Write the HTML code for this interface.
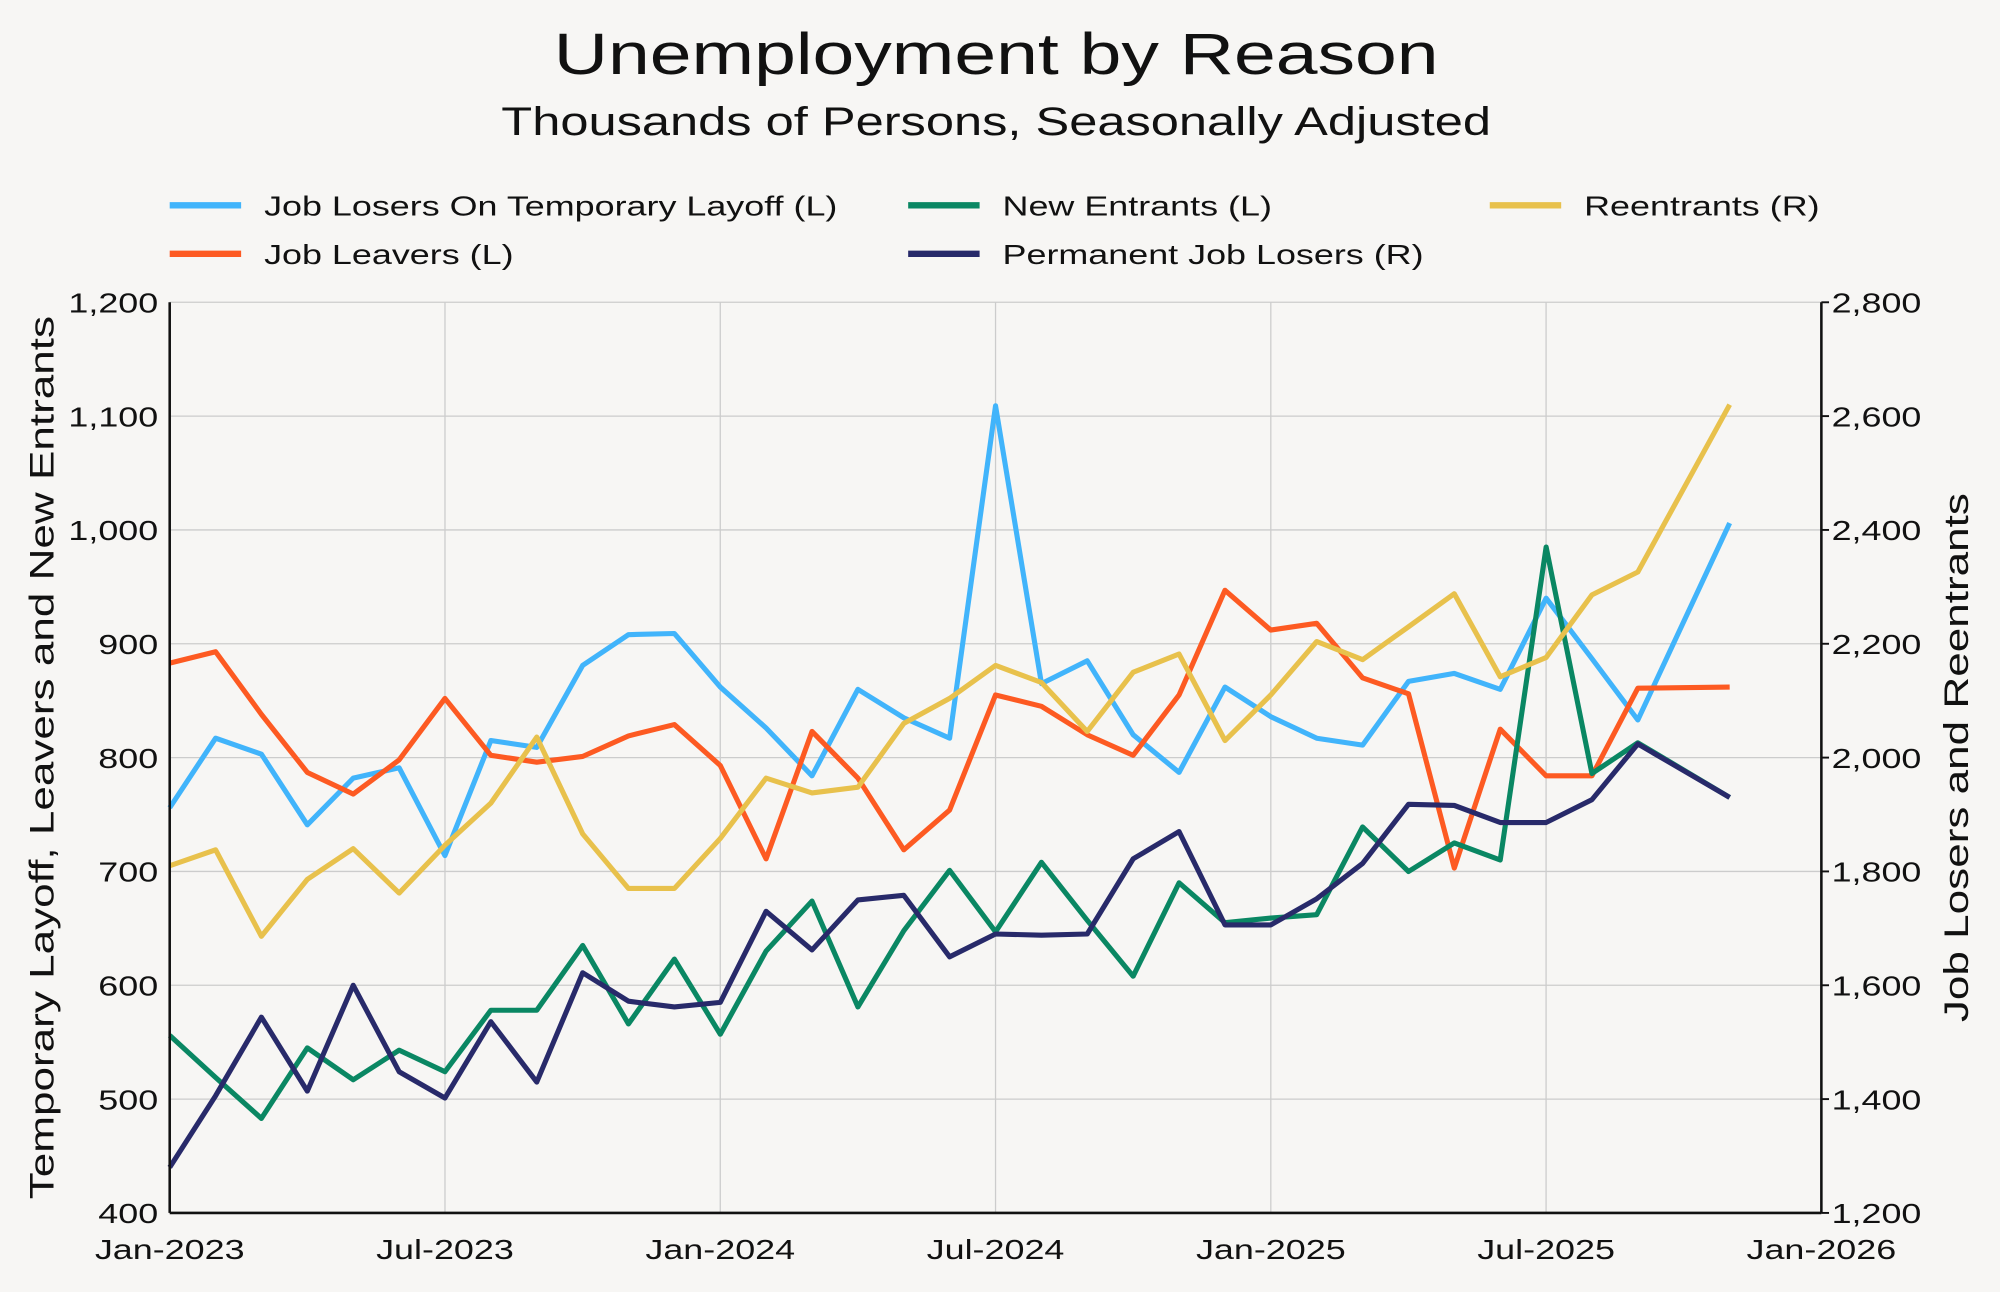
<!DOCTYPE html>
<html><head><meta charset="utf-8"><style>
html,body{margin:0;padding:0;background:#f7f6f4;}
svg{display:block;font-family:"Liberation Sans",sans-serif;}
</style></head><body>
<svg id="chart" width="2000" height="1292" viewBox="0 0 1568 1013" xmlns="http://www.w3.org/2000/svg">
<rect width="1568" height="1013" fill="#f7f6f4"/>
<text class="w" x="781" y="58" font-size="46" text-anchor="middle" fill="#111">Unemployment by Reason</text>
<text class="w" x="781" y="106" font-size="31" text-anchor="middle" fill="#111">Thousands of Persons, Seasonally Adjusted</text>
<g id="legend"></g>
<g id="grid"></g>
<g id="series"></g>
<g id="axes"></g>
<text class="w" transform="translate(42,594) rotate(-90)" font-size="27" text-anchor="middle" fill="#111">Temporary Layoff, Leavers and New Entrants</text>
<text class="w" transform="translate(1543,594) rotate(-90)" font-size="27" text-anchor="middle" fill="#111">Job Losers and Reentrants</text>
</svg>
<script>
// months index from Jan-2023 (0) ; Oct-2025 (33) missing
const months = [0,1,2,3,4,5,6,7,8,9,10,11,12,13,14,15,16,17,18,19,20,21,22,23,24,25,26,27,28,29,30,31,32,34];
const tempLayoff = [756,817,803,741,782,791,714,815,809,881,908,909,862,826,784,860,835,817,1109,865,885,820,787,862,836,817,811,867,874,860,940,887,833,1006];
const jobLeavers = [883,893,838,787,768,798,852,802,796,801,819,829,793,711,823,782,719,754,855,845,820,802,855,947,912,918,870,856,703,825,784,784,861,862];
const newEntrants = [556,519,483,545,517,543,524,578,578,635,566,623,557,630,674,581,648,701,647,708,657,608,690,655,659,662,739,700,725,710,985,786,813,765];
const permLosers = [1280,1406,1544,1414,1600,1448,1402,1536,1430,1622,1572,1562,1570,1730,1662,1750,1758,1650,1690,1688,1690,1822,1870,1706,1706,1752,1814,1918,1916,1886,1886,1926,2024,1930];
const reentrants = [1810,1838,1686,1786,1840,1762,1846,1920,2036,1866,1770,1770,1858,1964,1938,1948,2060,2104,2162,2132,2046,2150,2182,2030,2110,2204,2172,2230,2288,2142,2176,2286,2326,2620];
const leftTicks = [400,500,600,700,800,900,1000,1100,1200];
const rightTicks = [1200,1400,1600,1800,2000,2200,2400,2600,2800];
const xTickLabels = ["Jan-2023","Jul-2023","Jan-2024","Jul-2024","Jan-2025","Jul-2025","Jan-2026"];
const xTickMonths = [0,6,12,18,24,30,36];

const NS="http://www.w3.org/2000/svg";
const L=133,R=1428,T=237,B=951;
const x=m=>L+(R-L)*m/36;
const yL=v=>B-(v-400)/800*(B-T);
const yR=v=>B-(v-1200)/1600*(B-T);
function mk(tag,attrs,parent){const e=document.createElementNS(NS,tag);for(const k in attrs)e.setAttribute(k,attrs[k]);parent.appendChild(e);return e;}
const grid=document.getElementById('grid'),axes=document.getElementById('axes'),series=document.getElementById('series'),legend=document.getElementById('legend');
leftTicks.forEach((t,i)=>{
  const y=yL(t);
  const g=mk('line',{x1:L,x2:R,y1:y,y2:y,stroke:'#ccc','stroke-width':1},grid);
  
  
  const tl=mk('text',{x:L-9,y:y+8,'font-size':22,'text-anchor':'end',fill:'#111',class:'w'},axes);tl.textContent=t.toLocaleString('en-US');
  
  
});
rightTicks.forEach(t=>{
  const y=yR(t);
  const tr=mk('text',{x:R+8,y:y+8,'font-size':22,'text-anchor':'start',fill:'#111',class:'w'},axes);tr.textContent=t.toLocaleString('en-US');
  
  
  mk('line',{x1:R,x2:R+6,y1:y,y2:y,stroke:'#111','stroke-width':1.5},axes);
});
xTickMonths.forEach((m,i)=>{
  const xx=x(m);
  const g=mk('line',{x1:xx,x2:xx,y1:T,y2:B,stroke:'#ccc','stroke-width':1},grid);
  
  
  const tx=mk('text',{x:xx,y:B+36,'font-size':22,'text-anchor':'middle',fill:'#111',class:'w'},axes);tx.textContent=xTickLabels[i];
  
  
});
mk('line',{x1:L,x2:L,y1:T,y2:B,stroke:'#111','stroke-width':2},axes);
mk('line',{x1:R,x2:R,y1:T,y2:B,stroke:'#111','stroke-width':2},axes);
mk('line',{x1:L,x2:R,y1:B,y2:B,stroke:'#111','stroke-width':2},axes);

const defs=[
 {name:'Job Losers On Temporary Layoff (L)',data:tempLayoff,c:'#41b4fb',ax:yL,key:'temp-layoff',lx:133,ly:161},
 {name:'Job Leavers (L)',data:jobLeavers,c:'#fd5a22',ax:yL,key:'job-leavers',lx:133,ly:199},
 {name:'New Entrants (L)',data:newEntrants,c:'#0a8763',ax:yL,key:'new-entrants',lx:712,ly:161},
 {name:'Permanent Job Losers (R)',data:permLosers,c:'#282a6a',ax:yR,key:'permanent-job-losers',lx:712,ly:199},
 {name:'Reentrants (R)',data:reentrants,c:'#e8c14c',ax:yR,key:'reentrants',lx:1168,ly:161}
];
defs.forEach(s=>{
  const d=s.data.map((v,i)=>(i?'L':'M')+x(months[i]).toFixed(1)+','+s.ax(v).toFixed(1)).join(' ');
  const p=mk('path',{d:d,fill:'none',stroke:s.c,'stroke-width':4,'stroke-linejoin':'round'},series);
  
  
  const g=mk('g',{},legend);
  
  
  mk('line',{x1:s.lx,x2:s.lx+56,y1:s.ly,y2:s.ly,stroke:s.c,'stroke-width':5},g);
  const t=mk('text',{x:s.lx+74,y:s.ly+8,'font-size':22,fill:'#111',class:'w'},g);t.textContent=s.name;
});
document.querySelectorAll('text.w').forEach(t=>{
  const w=t.getComputedTextLength();
  t.setAttribute('textLength',(w*1.28).toFixed(1));
  t.setAttribute('lengthAdjust','spacingAndGlyphs');
});
</script>
</body></html>
